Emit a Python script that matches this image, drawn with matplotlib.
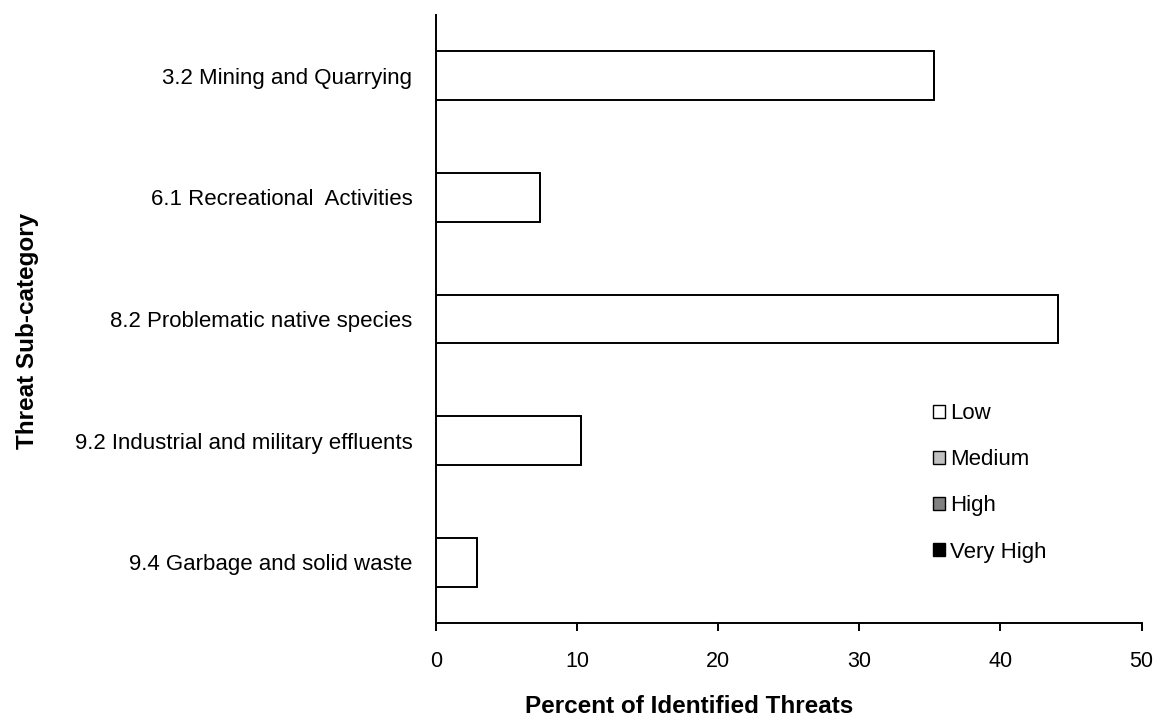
import numpy as np
import matplotlib
matplotlib.use('Agg')
import matplotlib.pyplot as plt
from matplotlib.patches import Patch

# 데이터
categories = ['3.2 Mining and Quarrying',
              '6.1 Recreational  Activities',
              '8.2 Problematic native species',
              '9.2 Industrial and military effluents',
              '9.4 Garbage and solid waste']
low = [35.3, 7.4, 44.1, 10.3, 2.9]
medium = [0, 0, 0, 0, 0]
high = [0, 0, 0, 0, 0]
very_high = [0, 0, 0, 0, 0]

levels = ['Low', 'Medium', 'High', 'Very High']
colors = ['#ffffff', '#c0c0c0', '#808080', '#000000']

plt.rcParams['font.family'] = ['Liberation Sans', 'DejaVu Sans']

fig = plt.figure(figsize=(11.55, 7.17), dpi=100)
ax = fig.add_axes([436 / 1155, 1 - 623 / 717, 705.5 / 1155, 608 / 717])

y = np.arange(len(categories))
left = np.zeros(len(categories))
for vals, col in zip([low, medium, high, very_high], colors):
    vals = np.array(vals)
    ax.barh(y, vals, left=left, height=0.4, color=col,
            edgecolor='black', linewidth=1.4)
    left += vals

ax.set_ylim(len(categories) - 0.5, -0.5)
ax.set_xlim(0, 50)
ax.set_xticks([0, 10, 20, 30, 40, 50])
ax.set_yticks(y)
ax.set_yticklabels(categories)

ax.spines['top'].set_visible(False)
ax.spines['right'].set_visible(False)
ax.spines['left'].set_linewidth(1.4)
ax.spines['bottom'].set_linewidth(1.4)
ax.tick_params(axis='x', direction='out', length=6, width=1.4, labelsize=15.5, pad=14)
ax.tick_params(axis='y', length=0, labelsize=16, pad=17)

ax.set_xlabel('Percent of Identified Threats', fontsize=17.5, fontweight='bold')
ax.xaxis.set_label_coords((689 - 436) / 705.5, -0.118)
ax.set_ylabel('Threat Sub-category', fontsize=17.5, fontweight='bold')
ax.yaxis.set_label_coords((39 - 436) / 705.5, 0.48)

handles = [Patch(facecolor=c, edgecolor='black', linewidth=1) for c in colors]
ax.legend(handles, levels, loc='upper left', bbox_to_anchor=(0.7045, 0.3615),
          frameon=False, fontsize=16, handlelength=0.55, handleheight=0.55,
          handletextpad=0.2, labelspacing=1.13, borderpad=0, borderaxespad=0)

plt.savefig('out.png', dpi=100)
